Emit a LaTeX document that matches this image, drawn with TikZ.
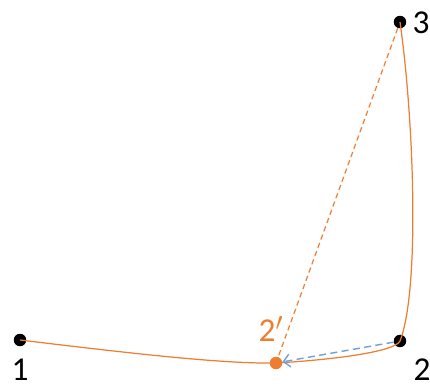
\documentclass[tikz,border=0pt]{standalone}
\usepackage{fontspec}
\setmainfont{Carlito}
\usetikzlibrary{arrows.meta}
\definecolor{orange}{HTML}{ED7D31}
\definecolor{blue}{HTML}{6FA0D8}

\begin{document}
\begin{tikzpicture}[x=0.02cm,y=-0.02cm,every node/.style={font=\fontsize{19}{21}\selectfont},dot/.style={circle,fill=black,inner sep=0pt,minimum size=0.25cm},lab/.style={inner sep=0pt}]
\useasboundingbox (0,0) rectangle (430,390);
\node[dot] (p1) at (20,340) {};
\node[dot] (p2) at (400,341) {};
\node[dot] (p3) at (400,22) {};
\node[dot,fill=orange] (q2) at (276,363) {};
\node[lab] (l1) at (20,370) {1};
\node[lab] (l2) at (422,370) {2};
\node[lab] (l3) at (421,23) {3};
\node[lab,text=orange] (lq) at (271,329) {2$'$};
\draw[orange,line width=0.7pt] (p1.center) .. controls (120,352) and (220,364) .. (q2.center) .. controls (330,360) and (395,352) .. (p2.center) .. controls (420,290) and (414,120) .. (p3.center);
\draw[orange,line width=0.7pt,dash pattern=on 3pt off 2pt] (p3) -- (q2);
\draw[blue,line width=0.8pt,dash pattern=on 4pt off 2.5pt,-{Straight Barb[length=1.3mm]}] (p2) -- (q2);
\end{tikzpicture}
\end{document}
